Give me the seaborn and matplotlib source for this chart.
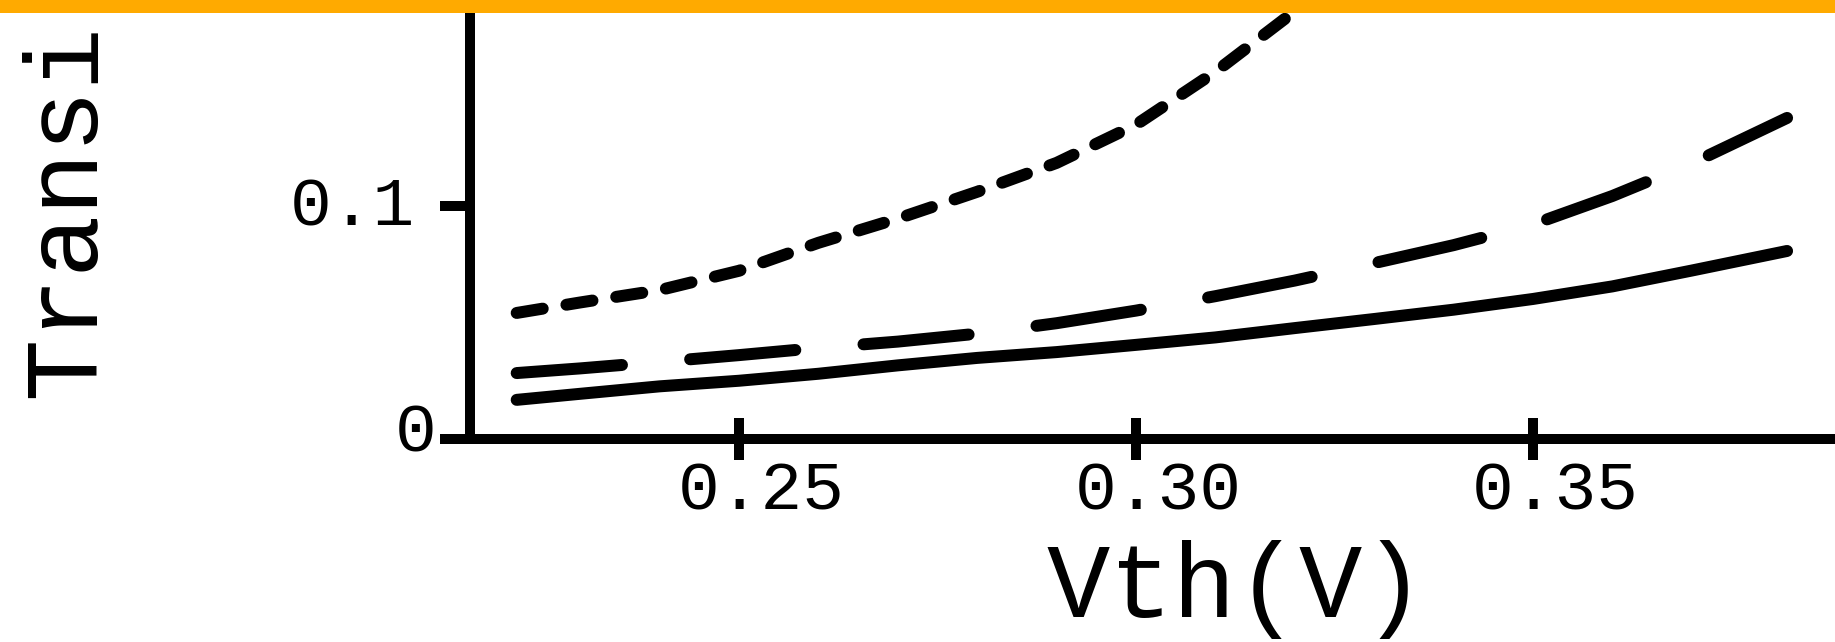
import matplotlib
matplotlib.use("Agg")
import matplotlib.pyplot as plt
from matplotlib.patches import Rectangle
from matplotlib.transforms import ScaledTranslation
import seaborn as sns
import pandas as pd

# Threshold voltage sweep (V)
vth = [0.222, 0.23, 0.24, 0.25, 0.26, 0.27, 0.28, 0.29, 0.30,
       0.31, 0.32, 0.33, 0.34, 0.35, 0.36, 0.37, 0.382]

# Three curves, lowest to highest
curve_solid = [0.0168, 0.0194, 0.0226, 0.0250, 0.0280, 0.0316, 0.0348, 0.0373, 0.0404,
               0.0436, 0.0476, 0.0515, 0.0555, 0.0601, 0.0655, 0.0723, 0.0807]
curve_long = [0.0283, 0.0303, 0.0331, 0.0360, 0.0391, 0.0418, 0.0452, 0.0497, 0.0551,
              0.0613, 0.0680, 0.0755, 0.0832, 0.0921, 0.1043, 0.1183, 0.1378]
vth_short = [0.222, 0.23, 0.24, 0.25, 0.26, 0.27, 0.28, 0.29, 0.30, 0.31, 0.32, 0.33]
curve_short = [0.0541, 0.0586, 0.0639, 0.0722, 0.0842, 0.0946, 0.1061, 0.1185, 0.1349,
               0.1576, 0.1836, 0.2140]

xticks = [0.25, 0.30, 0.35]
xtick_labels = ["0.25", "0.30", "0.35"]
yticks = [0.0, 0.1]
ytick_labels = ["0", "0.1"]

sns.set_style("white")
plt.rcParams["font.family"] = ["Liberation Mono", "DejaVu Sans Mono"]
plt.rcParams["text.color"] = "black"
plt.rcParams["axes.labelcolor"] = "black"

W, H, DPI = 1835, 642, 100
fig = plt.figure(figsize=(W / DPI, H / DPI), dpi=DPI)

# Axes in pixel terms: y spine at x=470, x spine at y=439 (from top)
left_px, right_px, bottom_px = 470, 2002, 439
ax = fig.add_axes([left_px / W, (H - bottom_px) / H,
                   (right_px - left_px) / W, bottom_px / H])

df = pd.concat([
    pd.DataFrame({"Vth": vth, "val": curve_solid, "case": "a"}),
    pd.DataFrame({"Vth": vth, "val": curve_long, "case": "b"}),
    pd.DataFrame({"Vth": vth_short, "val": curve_short, "case": "c"}),
])

lw_pt = 12 * 72 / DPI
sns.lineplot(data=df, x="Vth", y="val", style="case",
             dashes={"a": "", "b": (8.8, 5.7), "c": (2.2, 2.0)},
             color="black", linewidth=lw_pt, legend=False, ax=ax,
             dash_capstyle="round", solid_capstyle="round",
             dash_joinstyle="round", solid_joinstyle="round", estimator=None)

x0 = 0.25 - (739 - left_px) / 397.0 * 0.05
x1 = 0.35 + (right_px - 1533) / 397.0 * 0.05
ax.set_xlim(x0, x1)
ax.set_ylim(0, 0.1 * bottom_px / 233.0)

for side in ("top", "right"):
    ax.spines[side].set_visible(False)
for side in ("left", "bottom"):
    ax.spines[side].set_linewidth(10 * 72 / DPI)
    ax.spines[side].set_color("black")
    ax.spines[side].set_capstyle("round")

ax.set_xticks(xticks)
ax.set_xticklabels(xtick_labels)
ax.set_yticks(yticks)
ax.set_yticklabels(ytick_labels)

ax.tick_params(axis="x", bottom=True, direction="inout", length=42 * 72 / DPI,
               width=10 * 72 / DPI, labelsize=50, pad=0, colors="black")
ax.tick_params(axis="y", left=True, direction="out", length=30 * 72 / DPI,
               width=10 * 72 / DPI, labelsize=50, pad=18, colors="black")

# nudge tick labels
for lab in ax.get_xticklabels():
    lab.set_transform(lab.get_transform() + ScaledTranslation(22 / DPI, 0, fig.dpi_scale_trans))
ylabs = ax.get_yticklabels()
ylabs[0].set_transform(ylabs[0].get_transform() + ScaledTranslation(21 / DPI, 12 / DPI, fig.dpi_scale_trans))
ylabs[1].set_transform(ylabs[1].get_transform() + ScaledTranslation(0, 6 / DPI, fig.dpi_scale_trans))

ax.set_xlabel("Vth(V)", fontsize=76)
ax.xaxis.label.set_va("baseline")
ax.xaxis.set_label_coords(0.5, (bottom_px - 617) / bottom_px)
ax.set_ylabel("")

fig.text(94 / W, (H - 398) / H, "Transi", rotation=90, rotation_mode="anchor",
         ha="left", va="baseline", fontsize=75, color="black")

# orange strip along the top edge
fig.patches.append(Rectangle((0, (H - 13) / H), 1, 13 / H, transform=fig.transFigure,
                             facecolor="#FFAA00", edgecolor="none", zorder=10))

fig.savefig("out.png", dpi=DPI)
